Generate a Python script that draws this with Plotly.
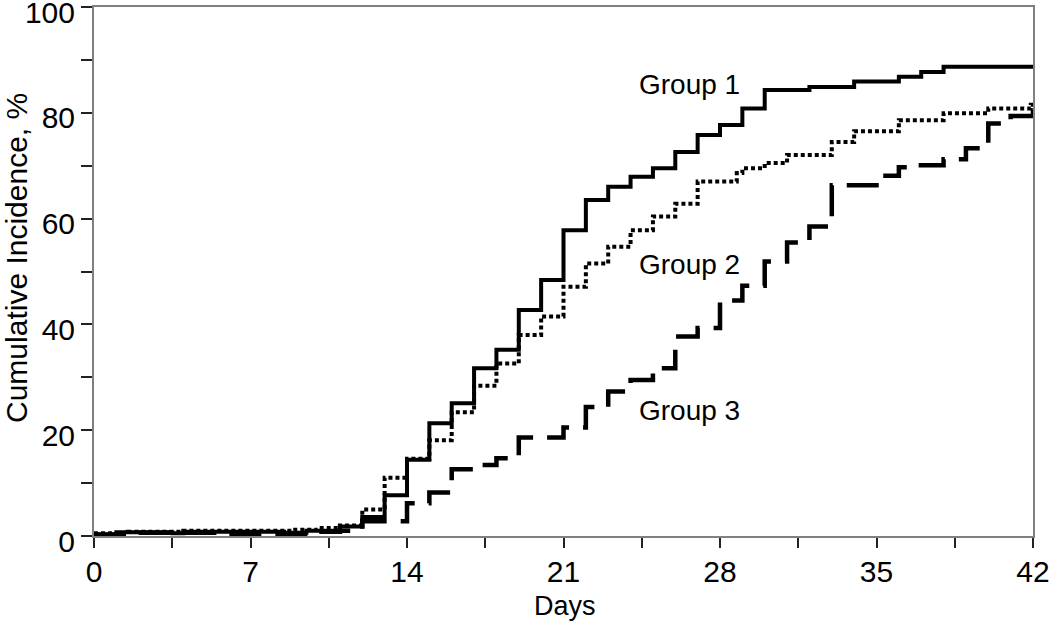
import plotly.graph_objects as go

# Group 1 (solid)
days1 = [0, 1, 3.5, 4, 8.5, 9.5, 11, 12, 13, 14, 15, 16, 17, 18, 19, 20, 21, 22, 23, 24,
         25, 26, 27, 28, 29, 30, 32, 34, 36, 37, 38, 42]
inc1 = [0.3, 0.7, 0.5, 0.8, 0.6, 1.0, 1.8, 3.6, 7.7, 14.4, 21.3, 25.1, 31.7, 35.2, 42.7, 48.4,
        57.8, 63.5, 66.0, 67.9, 69.5, 72.6, 75.8, 77.7, 80.8, 84.3, 84.9, 85.9, 86.8, 87.7, 88.7, 88.7]

# Group 2 (dotted)
days2 = [0, 1.5, 4, 9, 10, 11, 12, 13, 14, 15, 16, 17, 18, 19, 20, 21, 22, 23, 24, 25, 26, 27,
         28.75, 29, 30, 31, 33, 34, 36, 38, 40, 41.9, 42]
inc2 = [0.5, 0.8, 1.0, 1.2, 1.5, 2.0, 5.0, 11.0, 14.6, 18.1, 23.4, 28.4, 32.6, 38.0, 41.5, 47.1,
        51.5, 54.7, 57.8, 60.4, 62.8, 67.0, 68.6, 69.5, 70.5, 72.0, 74.5, 76.5, 78.6, 79.9, 80.8,
        81.5, 81.5]

# Group 3 (dashed)
days3 = [0, 2, 6, 10, 11, 12, 14, 15, 16, 17, 18, 19, 21, 22, 23, 24, 25, 26, 27, 28, 29, 30,
         31, 32, 33, 35, 36, 36.5, 38, 39, 40, 41, 42]
inc3 = [0.3, 0.6, 0.4, 0.8, 1.0, 2.8, 6.2, 8.2, 12.6, 13.4, 14.7, 18.6, 20.5, 24.4, 27.3, 29.5,
        31.7, 37.7, 39.3, 44.5, 47.3, 51.9, 55.5, 58.5, 66.3, 68.1, 69.7, 70.1, 71.2, 73.3, 78.0,
        79.4, 81.2]

group_names = ["Group 1", "Group 2", "Group 3"]
label_x = [26.65, 26.65, 26.65]
label_y = [85.3, 51.4, 23.8]

x_tickvals = [0, 3.5, 7, 10.5, 14, 17.5, 21, 24.5, 28, 31.5, 35, 38.5, 42]
x_ticktext = ["0", "", "7", "", "14", "", "21", "", "28", "", "35", "", "42"]
y_tickvals = [0, 10, 20, 30, 40, 50, 60, 70, 80, 90, 100]
y_ticktext = ["0", "", "20", "", "40", "", "60", "", "80", "", "100"]

FONT = "Liberation Sans, Arial, sans-serif"

fig = go.Figure()
fig.add_trace(go.Scatter(x=days3, y=inc3, mode="lines", line_shape="hv",
                         line=dict(color="black", width=4.5, dash="32px,14px"),
                         name=group_names[2], showlegend=False))
fig.add_trace(go.Scatter(x=days2, y=inc2, mode="lines", line_shape="hv",
                         line=dict(color="black", width=4, dash="4px,3px"),
                         name=group_names[1], showlegend=False))
fig.add_trace(go.Scatter(x=days1, y=inc1, mode="lines", line_shape="hv",
                         line=dict(color="black", width=4),
                         name=group_names[0], showlegend=False))

for name, lx, ly in zip(group_names, label_x, label_y):
    fig.add_annotation(x=lx, y=ly, xref="x", yref="y", text=name, showarrow=False,
                       xanchor="center", yanchor="middle",
                       font=dict(family=FONT, size=28, color="black"))

fig.add_annotation(x=-0.0831, y=0.5255, xref="paper", yref="paper",
                   text="Cumulative Incidence, %", textangle=-90, showarrow=False,
                   xanchor="center", yanchor="middle",
                   font=dict(family=FONT, size=30, color="black"))
fig.add_annotation(x=0.5016, y=-0.133, xref="paper", yref="paper",
                   text="Days", showarrow=False, xanchor="center", yanchor="middle",
                   font=dict(family=FONT, size=27, color="black"))

fig.update_xaxes(range=[0, 42], tickvals=x_tickvals, ticktext=x_ticktext,
                 ticks="outside", ticklen=10, tickwidth=2, tickcolor="#222",
                 ticklabelstandoff=-2, ticklabeloverflow="allow", automargin=False,
                 showline=True, linecolor="#808080", linewidth=2, mirror=True,
                 showgrid=False, zeroline=False,
                 tickfont=dict(family=FONT, size=30, color="black"))
fig.update_yaxes(range=[0, 100], tickvals=y_tickvals, ticktext=y_ticktext,
                 ticks="outside", ticklen=11, tickwidth=2, tickcolor="#222",
                 ticklabelshift=5, ticklabeloverflow="allow", automargin=False,
                 showline=True, linecolor="#808080", linewidth=2, mirror=True,
                 showgrid=False, zeroline=False,
                 tickfont=dict(family=FONT, size=30, color="black"))

fig.update_layout(width=1050, height=621, plot_bgcolor="white", paper_bgcolor="white",
                  margin=dict(l=94, r=17, t=7, b=85), showlegend=False)

fig.write_html("out.html", config={"displayModeBar": False},
               post_script="document.body.style.margin='0';")
